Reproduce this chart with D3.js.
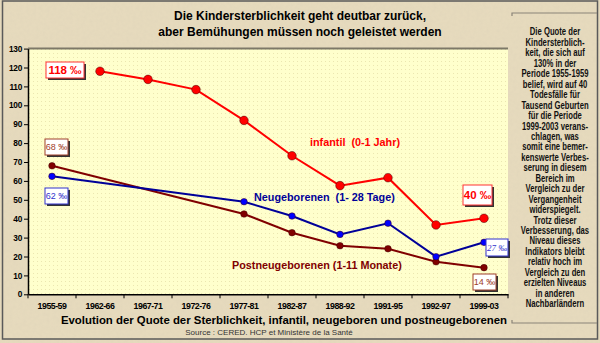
<!DOCTYPE html>
<html><head><meta charset="utf-8">
<script src="https://cdn.jsdelivr.net/npm/d3@7"></script>
<style>
html,body{margin:0;padding:0;background:#e8ddc3;}
svg{display:block;}
</style></head>
<body>
<svg id="c" width="600" height="343"></svg>
<script>
const categories = ["1955-59","1962-66","1967-71","1972-76","1977-81","1982-87","1988-92","1991-95","1992-97","1999-03"];
const infantil = [null,118,113.7,108.3,92,73.3,57.5,61.7,36.7,40.2];
const neugeborenen = [62.4,null,null,null,49,41.4,31.7,37.6,19.9,27.5];
const postneugeborenen = [68,null,null,null,42.5,32.6,25.7,24.1,17.2,14.1];
const yTicks = [0,10,20,30,40,50,60,70,80,90,100,110,120,130];
const titleLines = ["Die Kindersterblichkeit geht deutbar zurück,","aber Bemühungen müssen noch geleistet werden"];
const xTitle = "Evolution der Quote der Sterblichkeit, infantil, neugeboren und postneugeborenen";
const sourceText = "Source : CERED. HCP et Ministère de la Santé";
const sideText = ["Die Quote der","Kindersterblich-","keit, die sich auf","130% in der","Periode 1955-1959","belief, wird auf 40","Todesfälle für","Tausend Geburten","für die Periode","1999-2003 verans-","chlagen, was","somit eine bemer-","kenswerte Verbes-","serung in diesem","Bereich im","Vergleich zu der","Vergangenheit","widerspiegelt.","Trotz dieser","Verbesserung, das","Niveau dieses","Indikators bleibt","relativ hoch im","Vergleich zu den","erzielten Niveaus","in anderen","Nachbarländern"];

const svg = d3.select("#c");
const defs = svg.append("defs");
const f = defs.append("filter").attr("id","paper").attr("x",0).attr("y",0).attr("width","100%").attr("height","100%");
f.append("feTurbulence").attr("type","fractalNoise").attr("baseFrequency",0.3).attr("numOctaves",3).attr("seed",4).attr("result","n");
f.append("feColorMatrix").attr("in","n").attr("type","matrix")
 .attr("values","0 0 0 0 0.72  0 0 0 0 0.64  0 0 0 0 0.48  0 0 0 -1.2 0.8").attr("result","c");
f.append("feComposite").attr("in","c").attr("in2","SourceGraphic").attr("operator","in");
const pat = defs.append("pattern").attr("id","dots").attr("width",4).attr("height",4).attr("patternUnits","userSpaceOnUse");
pat.append("rect").attr("width",4).attr("height",4).attr("fill","#ffffcc");
pat.append("rect").attr("x",1).attr("y",1).attr("width",1).attr("height",1).attr("fill","#ebe6b0");

// background
svg.append("rect").attr("width",600).attr("height",343).attr("fill","#e6dabd");
svg.append("rect").attr("width",600).attr("height",343).attr("fill","#e6dabd").attr("filter","url(#paper)").attr("opacity",0.5);
svg.append("rect").attr("x",2.5).attr("y",1).attr("width",595).attr("height",338).attr("fill","none").attr("stroke","#5a5a5a").attr("stroke-width",1.5);

const L=28, R=508, T=48.6, B=294.3;
const x = d3.scaleBand().domain(categories).range([L,R]).padding(0);
const y = d3.scaleLinear().domain([0,130]).range([B,T]);

svg.append("rect").attr("x",L).attr("y",T).attr("width",R-L).attr("height",B-T).attr("fill","url(#dots)");
svg.append("line").attr("x1",L).attr("x2",R).attr("y1",T).attr("y2",T).attr("stroke","#7d7868").attr("stroke-width",2);

// title
svg.append("g").selectAll("text").data(titleLines).join("text")
 .attr("x",300).attr("y",(d,i)=>20+i*16).attr("text-anchor","middle")
 .attr("font-family","Liberation Sans, Arial, sans-serif").attr("font-weight","bold").attr("font-size",12).attr("fill","#000")
 .text(d=>d);

// y axis
const ya = svg.append("g").attr("transform",`translate(${L},0)`)
 .call(d3.axisLeft(y).tickValues(yTicks).tickSize(4).tickSizeOuter(0).tickFormat(d3.format("d")));
ya.select(".domain").attr("stroke","#000").attr("stroke-width",1.5);
ya.selectAll(".tick line").attr("stroke","#000");
ya.selectAll(".tick text").attr("font-family","Liberation Sans, Arial, sans-serif").attr("font-weight","bold").attr("font-size",8.3).attr("fill","#000").attr("x",-6).attr("letter-spacing",-0.3);

// x axis
const xa = svg.append("g").attr("transform",`translate(0,${B})`)
 .call(d3.axisBottom(x).tickSize(0).tickSizeOuter(0));
xa.select(".domain").attr("stroke","#000").attr("stroke-width",1.5);
xa.selectAll(".tick text").attr("y",14.5).attr("dy",0).attr("font-family","Liberation Sans, Arial, sans-serif").attr("font-weight","bold").attr("font-size",8.8).attr("fill","#000").attr("letter-spacing",-0.5);
xa.selectAll(".tb").data(categories).join("line").attr("class","tb")
 .attr("x1",d=>x(d)).attr("x2",d=>x(d)).attr("y1",0).attr("y2",4).attr("stroke","#000");
xa.append("line").attr("x1",R).attr("x2",R).attr("y1",0).attr("y2",4).attr("stroke","#000");

// x title and source
svg.append("text").attr("x",284).attr("y",323.5).attr("text-anchor","middle")
 .attr("font-family","Liberation Sans, Arial, sans-serif").attr("font-weight","bold").attr("font-size",11.4).attr("fill","#000").text(xTitle);
svg.append("text").attr("x",269).attr("y",335).attr("text-anchor","middle")
 .attr("font-family","Liberation Sans, Arial, sans-serif").attr("font-size",8).attr("fill","#333").text(sourceText);

// series
const series = [
 {vals:postneugeborenen, line:"#800000", fill:"#800000", r:3.3, lw:2},
 {vals:neugeborenen, line:"#000099", fill:"#0000ff", r:3.3, lw:2},
 {vals:infantil, line:"#ff0000", fill:"#ff0000", r:4.3, lw:2}
];
const cx = d=>x(d.c)+x.bandwidth()/2;
series.forEach(s=>{
 const pts = categories.map((c,i)=>({c, v:s.vals[i]})).filter(d=>d.v!=null);
 svg.append("path").datum(pts).attr("fill","none").attr("stroke",s.line).attr("stroke-width",s.lw)
  .attr("d", d3.line().x(cx).y(d=>y(d.v)));
 svg.append("g").selectAll("circle").data(pts).join("circle")
  .attr("cx",cx).attr("cy",d=>y(d.v)).attr("r",s.r)
  .attr("fill",s.fill).attr("stroke","#400000").attr("stroke-opacity",0.6).attr("stroke-width",0.8);
});

// series labels
const sl = [
 {t:"infantil  (0-1 Jahr)", x:310, y:146, c:"#ff0000"},
 {t:"Neugeborenen  (1- 28 Tage)", x:254, y:201, c:"#000099"},
 {t:"Postneugeborenen (1-11 Monate)", x:232, y:269, c:"#800000"}
];
svg.append("g").selectAll("text").data(sl).join("text").attr("x",d=>d.x).attr("y",d=>d.y)
 .attr("font-family","Liberation Sans, Arial, sans-serif").attr("font-weight","bold").attr("font-size",10.8).attr("fill",d=>d.c)
 .attr("xml:space","preserve").style("white-space","pre").text(d=>d.t);

// value boxes
const boxes = [
 {t:"118 ‰", x:46, y:62, w:38, h:16, c:"#ff0000", b:"#ff3333", bold:true, fs:11.5},
 {t:"68 ‰", x:45, y:139, w:23, h:16, c:"#a0402a", b:"#a0402a", bold:false, fs:9},
 {t:"62 ‰", x:45, y:188, w:23, h:16, c:"#3333cc", b:"#3333cc", bold:false, fs:9},
 {t:"40 ‰", x:463, y:185, w:29, h:20, c:"#ff0000", b:"#ff3333", bold:true, fs:11.5},
 {t:"27 ‰", x:486, y:239, w:22, h:17, c:"#3333cc", b:"#3333cc", bold:false, fs:9, serif:true},
 {t:"14 ‰", x:473, y:274, w:23, h:16, c:"#a0402a", b:"#a0402a", bold:false, fs:9}
];
const bg = svg.append("g").selectAll("g").data(boxes).join("g");
bg.append("rect").attr("x",d=>d.x+2).attr("y",d=>d.y+2).attr("width",d=>d.w).attr("height",d=>d.h).attr("fill","#333");
bg.append("rect").attr("x",d=>d.x).attr("y",d=>d.y).attr("width",d=>d.w).attr("height",d=>d.h).attr("fill","#fff").attr("stroke",d=>d.b).attr("stroke-width",1);
bg.append("text").attr("x",d=>d.x+d.w/2).attr("y",d=>d.y+d.h/2+d.fs*0.36).attr("text-anchor","middle")
 .attr("font-family",d=>d.serif?"Liberation Serif, serif":"Liberation Sans, Arial, sans-serif")
 .attr("font-style",d=>d.serif?"italic":"normal")
 .attr("font-weight",d=>d.bold?"bold":"normal").attr("font-size",d=>d.fs).attr("fill",d=>d.c).text(d=>d.t);

// side panel
const sp = svg.append("g");
sp.append("path").attr("d","M512,16 V13 H597").attr("fill","none").attr("stroke","#8a8478").attr("stroke-width",1.2);
sp.append("path").attr("d","M512,320 V323 H597").attr("fill","none").attr("stroke","#8a8478").attr("stroke-width",1.2);
const spt = sp.append("g").attr("transform","translate(555,0) scale(0.74,1)");
spt.selectAll("text").data(sideText).join("text").attr("x",0).attr("y",(d,i)=>35.5+i*10.45).attr("text-anchor","middle")
 .attr("font-family","Liberation Sans, Arial, sans-serif").attr("font-weight","bold").attr("font-size",10.4).attr("fill","#111")
 .text(d=>d);
</script>
</body></html>
